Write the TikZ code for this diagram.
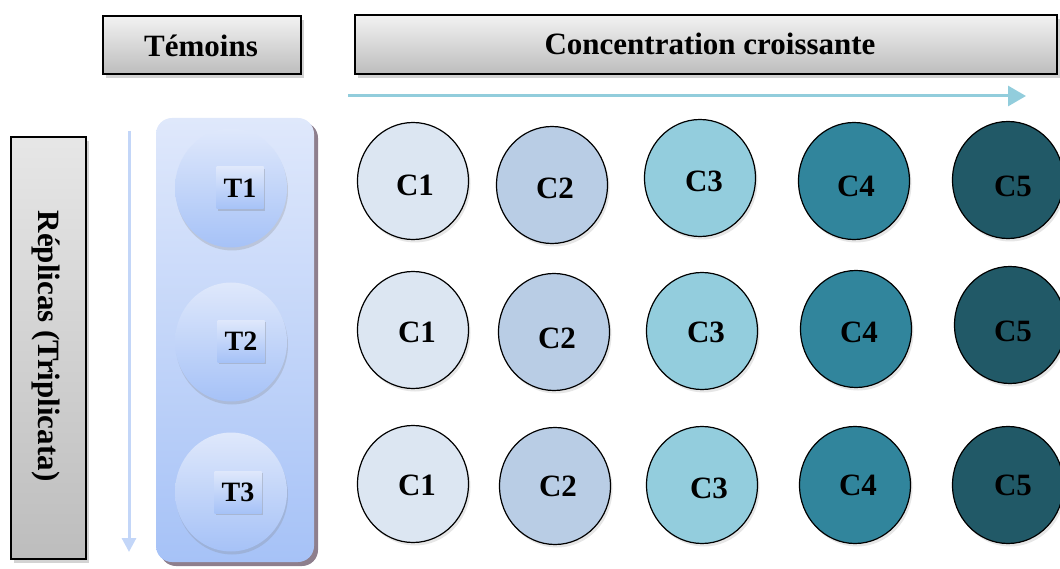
\documentclass[tikz,border=0pt]{standalone}
\usepackage{fontspec}
\setmainfont{Liberation Serif}
\usetikzlibrary{shapes.geometric,arrows.meta,shadows}
\definecolor{cA}{HTML}{DCE6F2}
\definecolor{cB}{HTML}{B9CDE5}
\definecolor{cC}{HTML}{93CDDD}
\definecolor{cD}{HTML}{31859C}
\definecolor{cE}{HTML}{215967}
\definecolor{tTop}{HTML}{DFE8FB}
\definecolor{tBot}{HTML}{A6C2F7}
\definecolor{colShadow}{HTML}{8E7F8D}
\definecolor{arrH}{HTML}{92CDDC}
\definecolor{arrV}{HTML}{C3D6F8}
\definecolor{gTop}{HTML}{F2F2F2}
\definecolor{gBot}{HTML}{BDBDBD}
\tikzset{
  lbl/.style={font=\fontsize{31}{37}\selectfont\bfseries, inner sep=0pt},
  tlbl/.style={font=\fontsize{28}{33}\selectfont\bfseries, inner sep=0pt},
  headbox/.style={draw=black, line width=1.3pt, top color=gTop, bottom color=gBot,
    drop shadow={shadow xshift=3pt, shadow yshift=-4pt, opacity=0.35}, inner sep=0pt},
  conc/.style={ellipse, draw=black, line width=1.2pt, minimum width=111pt, minimum height=117pt, inner sep=0pt,
    drop shadow={shadow xshift=2pt, shadow yshift=-3pt, opacity=0.2}},
  tcirc/.style={ellipse, minimum width=112pt, minimum height=119pt, inner sep=0pt,
    top color=tTop, bottom color=tBot,
    drop shadow={shadow xshift=1pt, shadow yshift=-3pt, opacity=0.25}},
  tsq/.style={rectangle, inner sep=0pt, minimum width=47pt, minimum height=42pt,
    top color=tTop, bottom color=tBot,
    drop shadow={shadow xshift=1.5pt, shadow yshift=-2pt, opacity=0.3}},
}
\begin{document}
\begin{tikzpicture}[x=1pt,y=-1pt]
\useasboundingbox (0,0) rectangle (1060,569);
% header boxes
\node[headbox, minimum width=198pt, minimum height=58pt] (temoins) at (202,45) {};
\node[lbl] (temoinsT) at (201,46) {Témoins};
\node[headbox, minimum width=702pt, minimum height=59pt] (conc) at (706,44.5) {};
\node[lbl] (concT) at (710,44) {Concentration croissante};
\node[headbox, minimum width=75pt, minimum height=422pt, top color=gTop!90!gray, bottom color=gBot] (repl) at (48.5,348) {};
\node[lbl, rotate=-90] (replT) at (46,346) {Réplicas (Triplicata)};
% arrows
\coordinate (hA) at (348,96);
\coordinate (hB) at (1026,96);
\draw[arrH, line width=3pt, -{Triangle[length=18pt,width=20pt]}] (hA) -- (hB);
\coordinate (vA) at (129,131);
\coordinate (vB) at (129,552);
\draw[arrV, line width=3pt, -{Triangle[length=14pt,width=14pt]}] (vA) -- (vB);
% temoins column
\fill[colShadow, rounded corners=16pt] (160,122) rectangle (318,566);
\node[rectangle, rounded corners=16pt, minimum width=158pt, minimum height=444pt, inner sep=0pt,
  top color=tTop, bottom color=tBot] (col) at (235,340) {};
\foreach \i/\y/\ly/\lx in {1/188/188/240, 2/342/341/241, 3/492/492/238}{
  \node[tcirc] (t\i) at (231,\y) {};
  \node[tsq] (ts\i) at (\lx,\ly) {};
  \node[tlbl] (tl\i) at (\lx,\ly) {T\i};
}
% concentration circles
\node[conc, fill=cA] (a1) at (413,181) {};
\node[conc, fill=cB] (b1) at (552,185) {};
\node[conc, fill=cC] (c1) at (700,178) {};
\node[conc, fill=cD] (d1) at (854,181) {};
\node[conc, fill=cE] (e1) at (1008,180) {};
\node[conc, fill=cA] (a2) at (413,330) {};
\node[conc, fill=cB] (b2) at (554,332) {};
\node[conc, fill=cC] (c2) at (702,331) {};
\node[conc, fill=cD] (d2) at (856,329) {};
\node[conc, fill=cE] (e2) at (1010,325) {};
\node[conc, fill=cA] (a3) at (413,484) {};
\node[conc, fill=cB] (b3) at (555,486) {};
\node[conc, fill=cC] (c3) at (702,485) {};
\node[conc, fill=cD] (d3) at (855,485) {};
\node[conc, fill=cE] (e3) at (1008,485) {};
% labels
\node[lbl] (la1) at (415,185) {C1};
\node[lbl] (lb1) at (555,188) {C2};
\node[lbl] (lc1) at (704,181) {C3};
\node[lbl] (ld1) at (856,186) {C4};
\node[lbl] (le1) at (1013,186) {C5};
\node[lbl] (la2) at (417,332) {C1};
\node[lbl] (lb2) at (557,338) {C2};
\node[lbl] (lc2) at (706,332) {C3};
\node[lbl] (ld2) at (859,332) {C4};
\node[lbl] (le2) at (1013,331) {C5};
\node[lbl] (la3) at (417,485) {C1};
\node[lbl] (lb3) at (558,486) {C2};
\node[lbl] (lc3) at (709,488) {C3};
\node[lbl] (ld3) at (858,485) {C4};
\node[lbl] (le3) at (1013,485) {C5};
\end{tikzpicture}
\end{document}
